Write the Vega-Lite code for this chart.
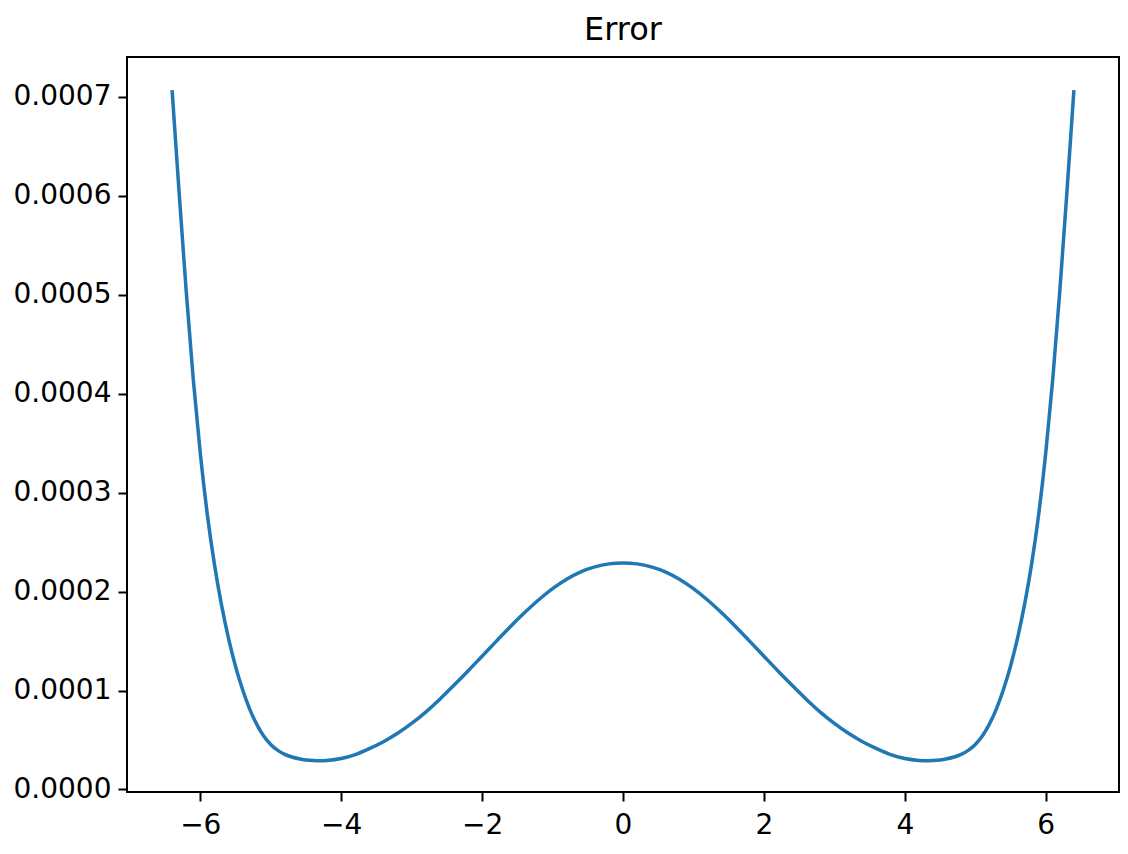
{
  "$schema": "https://vega.github.io/schema/vega-lite/v6.json",
  "width": 992,
  "height": 735,
  "autosize": {"type": "none"},
  "padding": {"left": 127, "top": 57, "right": 9, "bottom": 62},
  "background": "white",
  "title": {"text": "Error", "font": "DejaVu Sans", "fontSize": 32, "fontWeight": "normal", "color": "black", "baseline": "alphabetic", "offset": -15, "anchor": "middle"},
  "config": {
    "view": {"stroke": "black", "strokeWidth": 2},
    "axis": {"grid": false, "domain": false, "tickColor": "black", "tickWidth": 2, "tickSize": 9, "labelFont": "DejaVu Sans", "labelFontSize": 28, "labelColor": "black", "title": null}
  },
  "data": {"values": [
    {"x": -6.4, "error": 0.000707},
    {"x": -6.3, "error": 0.000603},
    {"x": -6.2, "error": 0.000504},
    {"x": -6.1, "error": 0.000415},
    {"x": -6.0, "error": 0.000340},
    {"x": -5.9, "error": 0.000278},
    {"x": -5.8, "error": 0.000228},
    {"x": -5.7, "error": 0.000187},
    {"x": -5.6, "error": 0.000153},
    {"x": -5.5, "error": 0.0001245},
    {"x": -5.4, "error": 0.000101},
    {"x": -5.3, "error": 0.0000815},
    {"x": -5.2, "error": 0.000066},
    {"x": -5.1, "error": 0.000054},
    {"x": -5.0, "error": 0.0000455},
    {"x": -4.9, "error": 0.0000395},
    {"x": -4.8, "error": 0.0000355},
    {"x": -4.7, "error": 0.0000328},
    {"x": -4.6, "error": 0.000031},
    {"x": -4.5, "error": 0.0000298},
    {"x": -4.4, "error": 0.0000292},
    {"x": -4.3, "error": 0.000029},
    {"x": -4.2, "error": 0.0000293},
    {"x": -4.0, "error": 0.0000312},
    {"x": -3.8, "error": 0.0000352},
    {"x": -3.6, "error": 0.0000412},
    {"x": -3.4, "error": 0.0000482},
    {"x": -3.2, "error": 0.0000567},
    {"x": -3.0, "error": 0.0000667},
    {"x": -2.8, "error": 0.0000782},
    {"x": -2.6, "error": 0.0000912},
    {"x": -2.4, "error": 0.0001052},
    {"x": -2.2, "error": 0.0001197},
    {"x": -2.0, "error": 0.0001347},
    {"x": -1.8, "error": 0.0001497},
    {"x": -1.6, "error": 0.0001645},
    {"x": -1.4, "error": 0.0001785},
    {"x": -1.2, "error": 0.0001915},
    {"x": -1.0, "error": 0.000203},
    {"x": -0.8, "error": 0.0002125},
    {"x": -0.6, "error": 0.00022},
    {"x": -0.4, "error": 0.000225},
    {"x": -0.2, "error": 0.000228},
    {"x": 0.0, "error": 0.000229},
    {"x": 0.2, "error": 0.000228},
    {"x": 0.4, "error": 0.000225},
    {"x": 0.6, "error": 0.00022},
    {"x": 0.8, "error": 0.0002125},
    {"x": 1.0, "error": 0.000203},
    {"x": 1.2, "error": 0.0001915},
    {"x": 1.4, "error": 0.0001785},
    {"x": 1.6, "error": 0.0001645},
    {"x": 1.8, "error": 0.0001497},
    {"x": 2.0, "error": 0.0001347},
    {"x": 2.2, "error": 0.0001197},
    {"x": 2.4, "error": 0.0001052},
    {"x": 2.6, "error": 0.0000912},
    {"x": 2.8, "error": 0.0000782},
    {"x": 3.0, "error": 0.0000667},
    {"x": 3.2, "error": 0.0000567},
    {"x": 3.4, "error": 0.0000482},
    {"x": 3.6, "error": 0.0000412},
    {"x": 3.8, "error": 0.0000352},
    {"x": 4.0, "error": 0.0000312},
    {"x": 4.2, "error": 0.0000293},
    {"x": 4.3, "error": 0.000029},
    {"x": 4.4, "error": 0.0000292},
    {"x": 4.5, "error": 0.0000298},
    {"x": 4.6, "error": 0.000031},
    {"x": 4.7, "error": 0.0000328},
    {"x": 4.8, "error": 0.0000355},
    {"x": 4.9, "error": 0.0000395},
    {"x": 5.0, "error": 0.0000455},
    {"x": 5.1, "error": 0.000054},
    {"x": 5.2, "error": 0.000066},
    {"x": 5.3, "error": 0.0000815},
    {"x": 5.4, "error": 0.000101},
    {"x": 5.5, "error": 0.0001245},
    {"x": 5.6, "error": 0.000153},
    {"x": 5.7, "error": 0.000187},
    {"x": 5.8, "error": 0.000228},
    {"x": 5.9, "error": 0.000278},
    {"x": 6.0, "error": 0.000340},
    {"x": 6.1, "error": 0.000415},
    {"x": 6.2, "error": 0.000504},
    {"x": 6.3, "error": 0.000603},
    {"x": 6.4, "error": 0.000707}
  ]},
  "mark": {"type": "line", "color": "#1f77b4", "strokeWidth": 3.5, "interpolate": "monotone", "clip": true},
  "encoding": {
    "x": {"field": "x", "type": "quantitative", "scale": {"domain": [-7.04, 7.04], "nice": false, "zero": false},
      "axis": {"values": [-6, -4, -2, 0, 2, 4, 6], "labelPadding": 10, "labelExpr": "replace(datum.label, '-', '\u2212')"}},
    "y": {"field": "error", "type": "quantitative", "scale": {"domain": [-0.0000026, 0.0007404], "nice": false, "zero": false},
      "axis": {"values": [0, 0.0001, 0.0002, 0.0003, 0.0004, 0.0005, 0.0006, 0.0007], "format": ".4f", "labelPadding": 7}}
  }
}
